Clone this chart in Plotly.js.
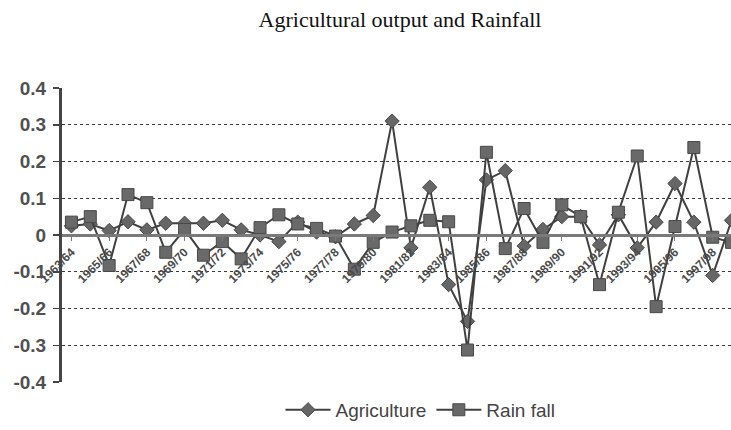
<!DOCTYPE html>
<html>
<head>
<meta charset="utf-8">
<script src="https://cdn.plot.ly/plotly-3.0.1.min.js"></script>
<style>
html,body{margin:0;padding:0;overflow:hidden;background:#fff;width:731px;height:430px;}
#chart{width:800px;height:430px;}
</style>
</head>
<body>
<div id="chart"></div>
<script>
const categories = ["1963/64","1964/65","1965/66","1966/67","1967/68","1968/69","1969/70","1970/71","1971/72","1972/73","1973/74","1974/75","1975/76","1976/77","1977/78","1978/79","1979/80","1980/81","1981/82","1982/83","1983/84","1984/85","1985/86","1986/87","1987/88","1988/89","1989/90","1990/91","1991/92","1992/93","1993/94","1994/95","1995/96","1996/97","1997/98","1998/99"];
const agriculture = [0.025,0.03,0.012,0.036,0.014,0.032,0.032,0.032,0.04,0.014,0.0,-0.018,0.035,0.008,-0.005,0.03,0.053,0.31,-0.035,0.13,-0.135,-0.235,0.15,0.175,-0.03,0.015,0.05,0.05,-0.027,0.055,-0.035,0.035,0.14,0.035,-0.11,0.04];
const rainfall = [0.035,0.05,-0.083,0.11,0.088,-0.047,0.015,-0.055,-0.018,-0.065,0.02,0.055,0.03,0.018,-0.003,-0.093,-0.02,0.008,0.025,0.04,0.036,-0.313,0.225,-0.037,0.072,-0.02,0.082,0.05,-0.135,0.062,0.215,-0.195,0.023,0.238,-0.006,-0.02];
const yTicks = [-0.4,-0.3,-0.2,-0.1,0,0.1,0.2,0.3,0.4];
const yTickText = ["-0.4","-0.3","-0.2","-0.1","0","0.1","0.2","0.3","0.4"];
const xTickVals = categories.filter((c,i)=>i%2===0);

const traces = [
  {x:categories, y:agriculture, name:"Agriculture", type:"scatter", mode:"lines+markers",
   line:{color:"#404040", width:2},
   marker:{symbol:"diamond", size:11, color:"#666", line:{color:"#484848", width:1}}},
  {x:categories, y:rainfall, name:"Rain fall", type:"scatter", mode:"lines+markers",
   line:{color:"#404040", width:2},
   marker:{symbol:"square", size:12, color:"#696969", line:{color:"#484848", width:1}}}
];

const layout = {
  width:800, height:430,
  margin:{l:62, r:59, t:88, b:48, pad:0, autoexpand:false},
  paper_bgcolor:"#fff", plot_bgcolor:"#fff",
  showlegend:true,
  title:{text:"Agricultural output and Rainfall", font:{family:"Liberation Serif, serif", size:22, color:"#111"},
         xref:"container", x:0.5, xanchor:"center", yref:"container", y:0.955, yanchor:"middle"},
  xaxis:{type:"category", anchor:"free", position:0.5, range:[-0.5,35.5],
         tickvals:xTickVals, ticktext:xTickVals, tickangle:-45,
         showline:true, linecolor:"#7a7a7a", linewidth:2.5,
         ticks:"outside", ticklen:4, tickcolor:"#7a7a7a", tickwidth:1,
         showgrid:false, zeroline:false,
         tickfont:{family:"Liberation Sans, Arial, sans-serif", size:12, color:"#4a4a4a", weight:"bold"}},
  yaxis:{range:[-0.4,0.4], tickvals:yTicks, ticktext:yTickText,
         showline:true, linecolor:"#444", linewidth:3,
         ticks:"outside", ticklen:6, tickcolor:"#444", tickwidth:1.5,
         showgrid:true, gridcolor:"#3a3a3a", gridwidth:1.4, griddash:"3px,3px",
         zeroline:false, ticklabelstandoff:3,
         tickfont:{family:"Liberation Sans, Arial, sans-serif", size:19, color:"#505050", weight:"bold"}},
  legend:{orientation:"h", xref:"paper", x:0.528, xanchor:"center", yref:"paper", y:-0.095, yanchor:"middle",
          font:{family:"Liberation Sans, Arial, sans-serif", size:19, color:"#444"},
          itemwidth:45, bgcolor:"rgba(0,0,0,0)"}
};

Plotly.newPlot("chart", traces, layout, {displayModeBar:false, staticPlot:true});
</script>
</body>
</html>
